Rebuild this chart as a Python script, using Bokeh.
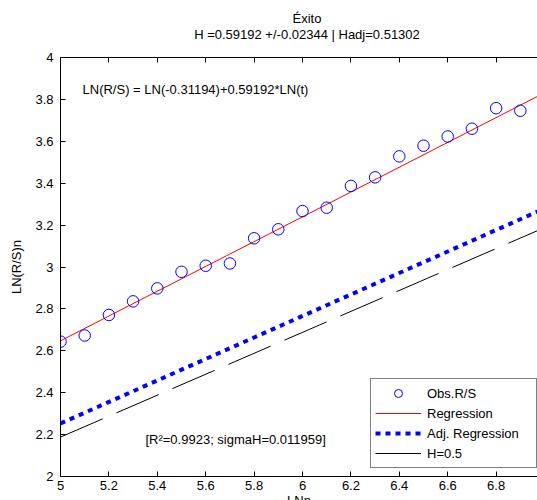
from bokeh.plotting import figure
from bokeh.layouts import column
from bokeh.models import (Range1d, LinearAxis, FixedTicker, NumeralTickFormatter,
                          CustomJSTickFormatter, Label, Legend, LegendItem, Div)
from bokeh.embed import file_html
from bokeh.resources import INLINE

# ---- data ----
ln_n = [5.0, 5.1, 5.2, 5.3, 5.4, 5.5, 5.6, 5.7, 5.8, 5.9,
        6.0, 6.1, 6.2, 6.3, 6.4, 6.5, 6.6, 6.7, 6.8, 6.9]
ln_rs = [2.644, 2.673, 2.771, 2.836, 2.898, 2.977, 3.006, 3.017, 3.137, 3.180,
         3.267, 3.283, 3.387, 3.428, 3.528, 3.579, 3.623, 3.660, 3.758, 3.746]
intercept = -0.31194
H = 0.59192
H_adj = 0.51302
H_half = 0.5
line_x = [5.0, 7.0]
reg_y = [intercept + H * x for x in line_x]
adj_y = [intercept + H_adj * x for x in line_x]
half_y = [intercept + H_half * x for x in line_x]
x_ticks = [5.0, 5.2, 5.4, 5.6, 5.8, 6.0, 6.2, 6.4, 6.6, 6.8, 7.0]
y_ticks = [2.0, 2.2, 2.4, 2.6, 2.8, 3.0, 3.2, 3.4, 3.6, 3.8, 4.0]
title_lines = ["Éxito", "H =0.59192 +/-0.02344 | Hadj=0.51302"]

FONT = "Liberation Sans"
DIV_H = 37

title_div = Div(
    text=("<div style='margin-left:67px;width:470px;text-align:center;"
          "font-family:\"Liberation Sans\";font-size:13px;line-height:16px;"
          "padding-top:6px;color:black;white-space:nowrap'>"
          + "<br>".join(title_lines) + "</div>"),
    width=537, height=DIV_H)

p = figure(width=537, height=500 - DIV_H, output_backend="svg", toolbar_location=None,
           x_range=Range1d(5, 6.971), y_range=Range1d(2, 4),
           min_border_left=60, min_border_top=10, min_border_right=0,
           min_border_bottom=33, title=None)
p.outline_line_color = None
p.xgrid.visible = False
p.ygrid.visible = False
p.background_fill_color = "white"

def style_axis(ax):
    ax.axis_line_color = "black"
    ax.axis_line_width = 1
    ax.major_tick_in = 5
    ax.major_tick_out = 0
    ax.major_tick_line_color = "black"
    ax.minor_tick_line_color = None
    ax.major_label_text_font = FONT
    ax.major_label_text_font_size = "13px"
    ax.major_label_text_color = "black"
    ax.axis_label_text_font = FONT
    ax.axis_label_text_font_size = "13px"
    ax.axis_label_text_font_style = "normal"
    ax.axis_label_text_color = "black"
    ax.formatter = NumeralTickFormatter(format="0.[0]")

p.xaxis.ticker = FixedTicker(ticks=x_ticks)
p.yaxis.ticker = FixedTicker(ticks=y_ticks)
for ax in p.xaxis + p.yaxis:
    style_axis(ax)
p.xaxis.axis_label = "LNn"
p.yaxis.axis_label = "LN(R/S)n"
p.xaxis.major_label_standoff = 4
p.xaxis.axis_label_standoff = 0
p.yaxis.major_label_standoff = 7
p.yaxis.axis_label_standoff = 8

top = LinearAxis(ticker=FixedTicker(ticks=x_ticks))
style_axis(top)
top.formatter = CustomJSTickFormatter(code="return '';")
top.major_label_text_font_size = "1px"
top.major_label_standoff = 0
p.add_layout(top, "above")

r_adj = p.line(line_x, adj_y, line_color="#0000ff", line_width=4, line_dash="5 5")
r_half = p.line(line_x, half_y, line_color="black", line_width=1, line_dash="46 15")
r_reg = p.line(line_x, reg_y, line_color="#ff0000", line_width=1)
r_obs = p.scatter(ln_n, ln_rs, marker="circle", size=11.5, fill_color=None,
                  line_color="#0000ff", line_width=1)

p.add_layout(Label(x=5.091, y=3.849, text="LN(R/S) = LN(-0.31194)+0.59192*LN(t)",
                   text_font=FONT, text_font_size="13px", text_baseline="middle",
                   text_color="black"))
p.add_layout(Label(x=5.351, y=2.176, text="[R²=0.9923; sigmaH=0.011959]",
                   text_font=FONT, text_font_size="13px", text_baseline="middle",
                   text_color="black"))

legend = Legend(items=[
    LegendItem(label="Obs.R/S", renderers=[r_obs]),
    LegendItem(label="Regression", renderers=[r_reg]),
    LegendItem(label="Adj. Regression", renderers=[r_adj]),
    LegendItem(label="H=0.5", renderers=[r_half]),
], location=(310, 8))
legend.border_line_color = "black"
legend.border_line_width = 1
legend.background_fill_color = "white"
legend.background_fill_alpha = 1
legend.label_text_font = FONT
legend.label_text_font_size = "13px"
legend.label_text_color = "black"
legend.glyph_width = 46
legend.glyph_height = 20
legend.label_height = 20
legend.label_width = 105
legend.label_standoff = 6
legend.padding = 4
legend.spacing = 0
legend.margin = 0
p.add_layout(legend, "center")

layout = column(title_div, p, spacing=0)
open("out.html", "w").write(file_html(layout, INLINE))
